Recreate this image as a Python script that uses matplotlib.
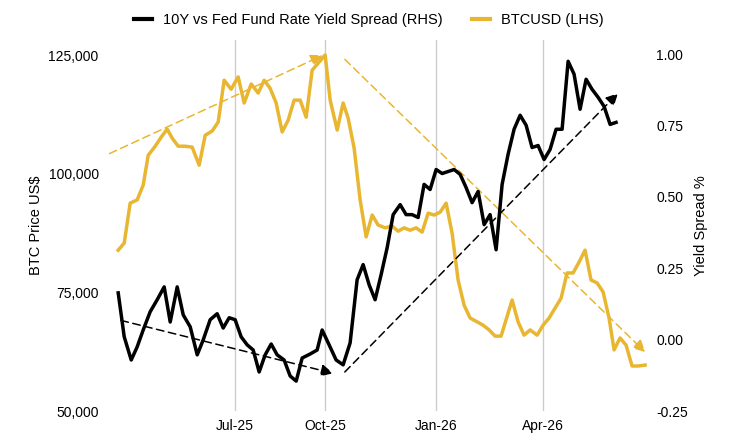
import matplotlib.pyplot as plt

plt.rcParams["font.family"] = ["Liberation Sans", "DejaVu Sans"]

# (x pixel-week position, value); x in weeks from series start
btc_px = [(118, 250), (124, 243), (130, 203), (137, 200), (143, 185), (148, 155), (155, 146), (161, 137), (167, 129), (172, 138),
          (178, 146), (185, 146), (192, 147), (199, 165), (205, 135), (212, 131), (218, 122), (224, 80), (231, 89), (238, 77),
          (244, 103), (251, 84), (258, 93), (264, 80), (270, 88), (276, 103), (282, 132), (288, 120), (294, 100), (300, 100),
          (306, 117), (312, 70), (325, 55), (330, 100), (337, 130), (343, 103), (348, 118), (354, 148), (360, 200), (366, 237),
          (372, 215), (378, 225), (385, 228), (392, 226), (398, 231), (404, 228), (410, 230), (416, 228), (422, 232), (428, 213),
          (434, 215), (440, 212), (446, 203), (452, 233), (458, 280), (464, 305), (470, 318), (477, 322), (483, 325), (489, 330),
          (495, 336), (501, 336), (512, 300), (518, 322), (524, 335), (530, 330), (537, 335), (543, 325), (549, 318), (555, 308),
          (561, 298), (567, 273), (573, 273), (579, 262), (585, 250), (591, 280), (597, 283), (603, 292), (609, 318), (614, 350),
          (620, 338), (626, 345), (632, 366), (638, 366), (645, 365)]
btc_x = [round((p - 118) / 7, 2) for p, _ in btc_px]
btc = [round(125000 - (v - 55) / 356 * 75000, -2) for _, v in btc_px]

spread_px = [(118, 293), (124, 337), (131, 360), (137, 347), (143, 330), (150, 312), (157, 300), (164, 287), (170, 322), (177, 287),
             (183, 315), (190, 327), (197, 355), (203, 340), (210, 320), (217, 314), (223, 328), (229, 318), (235, 320), (241, 337),
             (247, 345), (253, 350), (259, 372), (265, 355), (271, 344), (277, 355), (284, 360), (290, 376), (296, 381), (302, 358),
             (310, 354), (317, 350), (322, 330), (329, 345), (336, 360), (343, 365), (350, 343), (357, 280), (363, 265), (369, 285),
             (375, 300), (381, 275), (387, 248), (393, 215), (400, 205), (406, 215), (412, 215), (418, 218), (424, 185), (430, 190),
             (436, 170), (442, 174), (448, 172), (454, 170), (460, 175), (466, 188), (472, 203), (478, 192), (484, 225), (490, 215),
             (496, 250), (502, 185), (508, 155), (514, 130), (520, 116), (526, 126), (532, 148), (538, 146), (544, 160), (550, 150),
             (556, 130), (562, 130), (568, 62), (574, 75), (580, 110), (586, 80), (592, 90), (598, 98), (604, 107), (610, 125), (616, 123)]
spread_x = [round((p - 118) / 7, 2) for p, _ in spread_px]
spread = [round(1 - (v - 55) / 71.2 * 0.25, 3) for _, v in spread_px]

tick_pos = [16.7, 29.6, 45.4, 60.7]
tick_labels = ["Jul-25", "Oct-25", "Jan-26", "Apr-26"]

gold = "#E8B630"
fig = plt.figure(figsize=(7.38, 4.43), dpi=100)
ax = fig.add_axes([0.145, 0.072, 0.733, 0.838])
ax2 = ax.twinx()

ax.plot(btc_x, btc, color=gold, lw=2.5, zorder=3)
ax2.plot(spread_x, spread, color="black", lw=2.5, zorder=3)


def arrow(a, p0, p1, color):
    a.annotate("", xy=p1, xytext=p0,
               arrowprops=dict(arrowstyle="-|>", color=color, lw=1.1, ls=(0, (5, 3)), mutation_scale=18))


arrow(ax, (-1.6, 104000), (29.6, 125200), gold)
arrow(ax, (32.1, 124500), (75.6, 62000), gold)
arrow(ax2, (0, 0.07), (31.1, -0.12), "black")
arrow(ax2, (32.1, -0.12), (71.7, 0.87), "black")

ax.set_xlim(-1.6, 75.7)
ax.set_ylim(50000, 128200)
ax2.set_ylim(-0.25, 1.05)
ax.set_yticks([50000, 75000, 100000, 125000])
ax.set_yticklabels([f"{v:,}" for v in [50000, 75000, 100000, 125000]])
ax2.set_yticks([-0.25, 0, 0.25, 0.5, 0.75, 1.0])
ax2.set_yticklabels(["-0.25", "0.00", "0.25", "0.50", "0.75", "1.00"])
ax.set_xticks(tick_pos)
ax.set_xticklabels(tick_labels)
ax.grid(axis="x", color="#cccccc", lw=1)
for a in (ax, ax2):
    for s in a.spines.values():
        s.set_visible(False)
    a.tick_params(length=0, labelsize=10, pad=6)
ax.set_ylabel("BTC Price US$", fontsize=10.5)
ax2.set_ylabel("Yield Spread %", fontsize=10.5)

h1, = ax.plot([], [], color="black", lw=3)
h2, = ax.plot([], [], color=gold, lw=3)
fig.legend([h1, h2], ["10Y vs Fed Fund Rate Yield Spread (RHS)", "BTCUSD (LHS)"],
           loc="upper center", bbox_to_anchor=(0.5, 1.0), ncol=2, frameon=False, fontsize=10.5, handlelength=1.2)

fig.savefig("out.png", dpi=100)
